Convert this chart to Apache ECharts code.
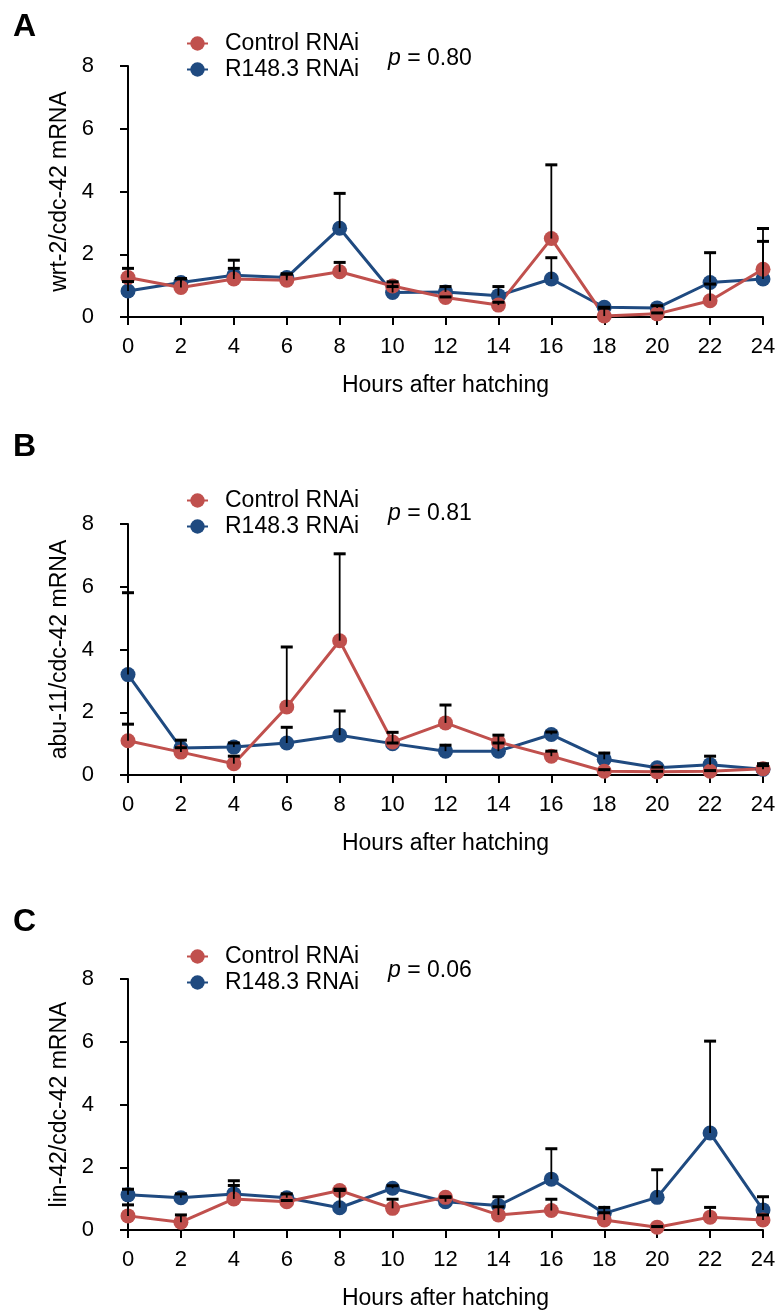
<!DOCTYPE html>
<html>
<head>
<meta charset="utf-8">
<title>mRNA time course after hatching</title>
<script src="https://cdn.jsdelivr.net/npm/echarts@6/dist/echarts.min.js"></script>
<style>
    html, body { margin: 0; padding: 0; background: #fff; }
    #main { width: 779px; height: 1311px; }
</style>
</head>
<body>
<div id="main"></div>
<script>
// x values (hours after hatching)
const hours = [0, 2, 4, 6, 8, 10, 12, 14, 16, 18, 20, 22, 24];
const seriesNames = ['Control RNAi', 'R148.3 RNAi'];
const panelLetters = ['A', 'B', 'C'];
const yNames = ['wrt-2/cdc-42 mRNA', 'abu-11/cdc-42 mRNA', 'lin-42/cdc-42 mRNA'];
const pValues = ['0.80', '0.81', '0.06'];

// A: wrt-2
const controlA = [1.26, 0.94, 1.21, 1.17, 1.44, 0.99, 0.62, 0.38, 2.50, 0.03, 0.10, 0.52, 1.52];
const controlErrA = [0.29, 0.28, 0.34, 0.20, 0.30, 0.13, 0.02, 0.09, 2.35, 0.25, 0.03, 0.53, 1.30];
const rnaiA = [0.83, 1.10, 1.33, 1.26, 2.83, 0.78, 0.80, 0.68, 1.21, 0.31, 0.29, 1.10, 1.21];
const rnaiErrA = [0.30, 0.12, 0.48, 0.11, 1.11, 0.19, 0.17, 0.29, 0.68, 0.00, 0.07, 0.95, 1.20];

// B: abu-11
const controlB = [1.09, 0.73, 0.36, 2.17, 4.28, 1.05, 1.66, 1.05, 0.60, 0.12, 0.10, 0.12, 0.20];
const controlErrB = [0.53, 0.14, 0.24, 1.91, 2.77, 0.31, 0.57, 0.22, 0.16, 0.05, 0.02, 0.02, 0.10];
const rnaiB = [3.20, 0.86, 0.89, 1.02, 1.27, 1.00, 0.76, 0.76, 1.29, 0.50, 0.23, 0.33, 0.18];
const rnaiErrB = [2.61, 0.25, 0.13, 0.50, 0.77, 0.02, 0.19, 0.26, 0.08, 0.20, 0.02, 0.27, 0.18];

// C: lin-42
const controlC = [0.45, 0.25, 0.99, 0.90, 1.26, 0.69, 1.04, 0.48, 0.62, 0.32, 0.09, 0.41, 0.32];
const controlErrC = [0.35, 0.23, 0.43, 0.04, 0.04, 0.29, 0.02, 0.26, 0.36, 0.23, 0.02, 0.31, 0.16];
const rnaiC = [1.12, 1.03, 1.15, 1.03, 0.71, 1.33, 0.90, 0.78, 1.62, 0.53, 1.04, 3.09, 0.64];
const rnaiErrC = [0.18, 0.12, 0.42, 0.12, 0.55, 0.08, 0.14, 0.28, 0.97, 0.19, 0.88, 2.93, 0.42];

const panelData = [
    { control: controlA, controlErr: controlErrA, rnai: rnaiA, rnaiErr: rnaiErrA },
    { control: controlB, controlErr: controlErrB, rnai: rnaiB, rnaiErr: rnaiErrB },
    { control: controlC, controlErr: controlErrC, rnai: rnaiC, rnaiErr: rnaiErrC },
];

// page layout (pixels)
const layout = [
    { gridTop: 66, letterTop: 11, legendTop: 27, pTop: 47 },
    { gridTop: 524, letterTop: 431, legendTop: 484, pTop: 502 },
    { gridTop: 979, letterTop: 906, legendTop: 940, pTop: 959 },
];

const font = 'Liberation Sans, Arial, Helvetica, sans-serif';
const red = '#C0504D';
const blue = '#1F4A80';

function errorBar(params, api) {
    const x = api.value(0);
    const y = api.value(1);
    const e = api.value(2);
    const base = api.coord([x, y]);
    const top = api.coord([x, y + e]);
    const half = 6;
    return {
        type: 'group',
        children: [
            {
                type: 'line',
                shape: { x1: base[0], y1: base[1], x2: top[0], y2: top[1] },
                style: { stroke: '#000', lineWidth: 1.8 }
            },
            {
                type: 'line',
                shape: { x1: top[0] - half, y1: top[1], x2: top[0] + half, y2: top[1] },
                style: { stroke: '#000', lineWidth: 3 }
            }
        ]
    };
}

const grids = [], xAxes = [], yAxes = [], series = [], legends = [], titles = [], graphics = [];

layout.forEach(function (l, i) {
    const d = panelData[i];
    grids.push({ left: 128, width: 635, top: l.gridTop, height: 251 });
    xAxes.push({
        type: 'value', gridIndex: i, min: 0, max: 24, interval: 2,
        name: 'Hours after hatching', nameLocation: 'middle', nameGap: 57,
        nameTextStyle: { fontSize: 23, color: '#000', fontFamily: font },
        axisLine: { lineStyle: { color: '#000', width: 2 } },
        axisTick: { length: 8, lineStyle: { color: '#000', width: 2 } },
        axisLabel: { fontSize: 22, color: '#000', fontFamily: font, margin: 19 },
        splitLine: { show: false }
    });
    yAxes.push({
        type: 'value', gridIndex: i, min: 0, max: 8, interval: 2,
        name: yNames[i], nameLocation: 'middle', nameGap: 50,
        nameTextStyle: { fontSize: 23, color: '#000', fontFamily: font },
        axisLine: { show: true, lineStyle: { color: '#000', width: 2 } },
        axisTick: { show: true, length: 8, lineStyle: { color: '#000', width: 2 } },
        axisLabel: { fontSize: 22, color: '#000', fontFamily: font, margin: 34 },
        splitLine: { show: false }
    });

    const lines = [
        { name: seriesNames[1], vals: d.rnai, errs: d.rnaiErr, color: blue },
        { name: seriesNames[0], vals: d.control, errs: d.controlErr, color: red }
    ];
    lines.forEach(function (s) {
        series.push({
            name: s.name, type: 'line', xAxisIndex: i, yAxisIndex: i,
            data: hours.map(function (h, k) { return [h, s.vals[k]]; }),
            symbol: 'circle', symbolSize: 15,
            lineStyle: { color: s.color, width: 3 },
            itemStyle: { color: s.color },
            z: 2
        });
    });
    lines.forEach(function (s) {
        series.push({
            type: 'custom', xAxisIndex: i, yAxisIndex: i,
            renderItem: errorBar,
            encode: { x: 0, y: 1 },
            data: hours.map(function (h, k) { return [h, s.vals[k], s.errs[k]]; }),
            z: 5, silent: true
        });
    });

    legends.push({
        data: seriesNames, orient: 'vertical', left: 181, top: l.legendTop,
        itemWidth: 21, itemHeight: 18, itemGap: 3,
        textStyle: { fontSize: 23, color: '#000', fontFamily: font, padding: [0, 0, 0, 12] }
    });
    titles.push({
        text: panelLetters[i], left: 13, top: l.letterTop, padding: 0,
        textStyle: { fontSize: 32, fontWeight: 'bold', color: '#000', fontFamily: font }
    });
    graphics.push({
        type: 'text', left: 388, top: l.pTop,
        style: {
            text: '{i|p} = ' + pValues[i],
            fontSize: 23, fill: '#000', fontFamily: font,
            rich: { i: { fontStyle: 'italic', fontSize: 23, fontFamily: font } }
        }
    });
});

const chart = echarts.init(document.getElementById('main'));
chart.setOption({
    animation: false,
    backgroundColor: '#fff',
    title: titles,
    legend: legends,
    grid: grids,
    xAxis: xAxes,
    yAxis: yAxes,
    series: series,
    graphic: graphics
});
</script>
</body>
</html>
